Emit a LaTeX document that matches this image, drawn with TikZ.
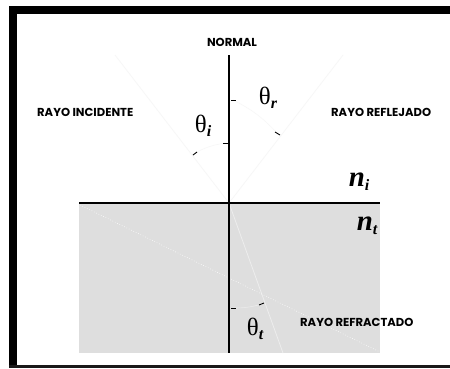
\documentclass[tikz,border=0pt]{standalone}
\usepackage{fontspec}
\setsansfont{Poppins}
\newfontfamily\greekserif{Liberation Serif}
\usepackage{tikz}
\usetikzlibrary{positioning}

\begin{document}
\begin{tikzpicture}[
  x=1bp, y=-1bp,
  lbl/.style   = {font=\sffamily\bfseries\fontsize{11.6}{13}\selectfont, inner sep=0pt},
  ang/.style   = {font=\greekserif\fontsize{25}{27}\selectfont, inner sep=0pt},
  idx/.style   = {font=\greekserif\bfseries\itshape\fontsize{29}{31}\selectfont, inner sep=0pt},
  ray/.style   = {draw=black!3, line width=0.8pt},
  arcline/.style = {draw=black!3, line width=0.6pt},
  tick/.style  = {draw=black, line width=0.9pt},
  axis/.style  = {draw=black, line width=1.8pt},
]
\fill[white] (0,0) rectangle (450,368);
\useasboundingbox (0,0) rectangle (450,368);

% ---------- frame ----------
\fill[black] (9,6) rectangle (17,368);
\fill[black] (9,6) rectangle (450,14);
\fill[black!90] (9,365) rectangle (450,368);

% ---------- second medium ----------
\fill[black!13] (79,203) rectangle (380,353);
\coordinate (O) at (229,203);

% ---------- rays ----------
\coordinate (inc) at (115,55);
\coordinate (ref) at (343,55);
\coordinate (tra) at (283,353);
\draw[ray] (inc) -- (O);
\draw[ray] (O) -- (ref);
\draw[ray, draw=black!7] (O) -- (tra);
\draw[white, dotted, line width=0.6pt] (80,205) -- (380,352);

% ---------- interface and normal ----------
\draw[axis] (79,203) -- (380,203);
\draw[axis] (229,55) -- (229,353);

% ---------- angle arcs ----------
\draw[arcline] (226,143) to[bend right=10] (195,153);
\draw[arcline] (233,100) to[bend left=10] (277,133);
\draw[arcline, draw=black!8] (233,308) to[bend right=8] (262,304);
\draw[tick] (223,143) -- (228,143);
\draw[tick] (193,155) -- (197,152);
\draw[tick] (231,100) -- (236,100);
\draw[tick] (275,132) -- (280,135);
\draw[tick] (231,308) -- (236,308);
\draw[tick] (259,305) -- (264,303);

% ---------- labels ----------
\node[lbl] (normal) at (232,42) {NORMAL};
\node[lbl, anchor=west] (inclbl) at (37,112) {RAYO INCIDENTE};
\node[lbl, anchor=west] (reflbl) at (331,112) {RAYO REFLEJADO};
\node[lbl, anchor=west] (tralbl) at (300,322) {RAYO REFRACTADO};

\node[ang] (thi) at (203,126) {θ\raisebox{-0.35ex}{\fontsize{16}{17}\selectfont\bfseries\itshape i}};
\node[ang] (thr) at (268,98) {θ\raisebox{-0.35ex}{\fontsize{16}{17}\selectfont\bfseries\itshape r}};
\node[ang] (tht) at (255,329) {θ\raisebox{-0.35ex}{\fontsize{16}{17}\selectfont\bfseries\itshape t}};

\node[idx] (ni) at (359,182) {n\raisebox{-0.3ex}{\fontsize{16}{17}\selectfont i}};
\node[idx] (nt) at (367,226) {n\raisebox{-0.3ex}{\fontsize{16}{17}\selectfont t}};
\end{tikzpicture}
\end{document}
